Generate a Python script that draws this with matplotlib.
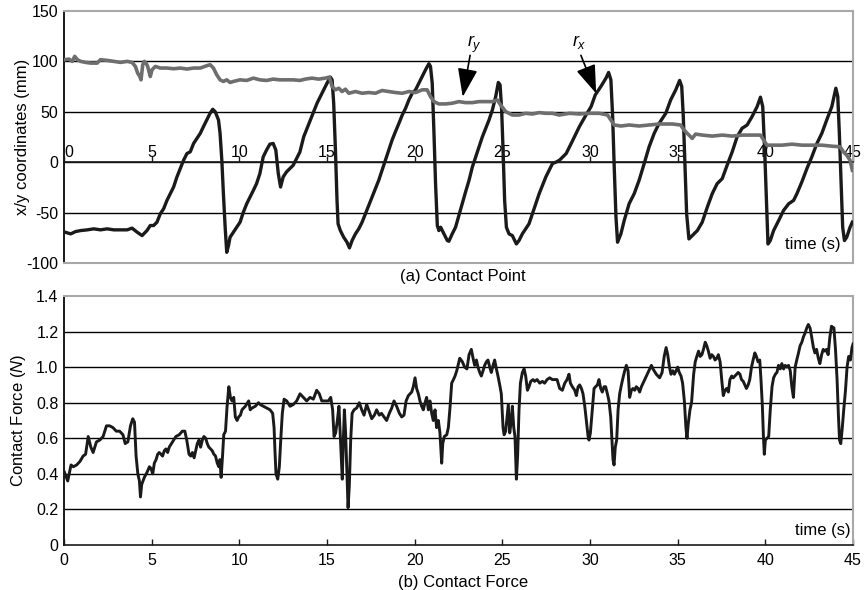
"""Contact point (x/y) and contact force traces over time, two stacked panels."""

import matplotlib

matplotlib.use("Agg")

import matplotlib.pyplot as plt

# ---- data ---------------------------------------------------------------
X_TICKS = [0, 5, 10, 15, 20, 25, 30, 35, 40, 45]
POS_TICKS = [-100, -50, 0, 50, 100, 150]
FORCE_TICKS = [0, 0.2, 0.4, 0.6, 0.8, 1.0, 1.2, 1.4]
FORCE_TICK_LABELS = ["0", "0.2", "0.4", "0.6", "0.8", "1.0", "1.2", "1.4"]

# r_x contact coordinate (black trace), time in s, value in mm
RX_T = [
    0.06, 0.38, 0.66, 0.95, 1.33, 1.70, 2.08, 2.46, 2.84, 3.22,
    3.60, 3.88, 4.17, 4.45, 4.73, 4.92, 5.11, 5.30, 5.49, 5.68,
    5.87, 6.06, 6.25, 6.44, 6.63, 6.82, 7.01, 7.20, 7.39, 7.58,
    7.77, 7.95, 8.14, 8.33, 8.48, 8.62, 8.81, 8.90, 9.00, 9.09,
    9.19, 9.28, 9.38, 9.47, 9.66, 9.85, 10.04, 10.23, 10.42, 10.61,
    10.80, 10.98, 11.17, 11.36, 11.55, 11.74, 11.93, 12.08, 12.22, 12.35,
    12.50, 12.69, 12.88, 13.07, 13.45, 13.67, 13.86, 14.05, 14.24, 14.43,
    14.62, 14.81, 15.00, 15.19, 15.29, 15.38, 15.48, 15.57, 15.63, 15.76,
    15.95, 16.14, 16.28, 16.43, 16.62, 16.81, 17.00, 17.19, 17.38, 17.57,
    17.76, 17.95, 18.14, 18.33, 18.52, 18.71, 18.90, 19.10, 19.29, 19.48,
    19.67, 19.86, 20.05, 20.24, 20.43, 20.62, 20.81, 20.90, 21.00, 21.10,
    21.19, 21.29, 21.38, 21.48, 21.67, 21.86, 21.95, 22.14, 22.33, 22.52,
    22.71, 22.90, 23.10, 23.29, 23.48, 23.67, 23.86, 24.05, 24.24, 24.43,
    24.62, 24.77, 24.87, 24.96, 25.04, 25.13, 25.23, 25.38, 25.57, 25.80,
    25.95, 26.14, 26.33, 26.52, 26.71, 26.90, 27.10, 27.29, 27.48, 27.67,
    27.86, 28.05, 28.26, 28.64, 29.02, 29.39, 29.77, 30.06, 30.30, 30.62,
    30.91, 31.06, 31.19, 31.29, 31.38, 31.48, 31.57, 31.76, 31.95, 32.23,
    32.52, 32.80, 33.09, 33.37, 33.66, 33.94, 34.32, 34.60, 34.89, 35.11,
    35.23, 35.32, 35.42, 35.51, 35.64, 35.83, 36.12, 36.40, 36.69, 36.97,
    37.25, 37.54, 37.82, 38.11, 38.39, 38.67, 38.96, 39.24, 39.53, 39.72,
    39.85, 39.96, 40.06, 40.15, 40.28, 40.47, 40.76, 41.04, 41.33, 41.61,
    41.80, 42.08, 42.37, 42.65, 42.94, 43.22, 43.50, 43.79, 44.02, 44.13,
    44.22, 44.32, 44.41, 44.51, 44.64, 44.83, 44.96,
]
RX_MM = [
    -69.4, -71.1, -68.8, -67.8, -67.1, -66.1, -67.1, -66.1, -67.1, -67.1,
    -67.1, -65.4, -69.4, -72.8, -67.8, -62.8, -62.8, -59.5, -51.2, -46.2,
    -37.9, -31.2, -24.6, -14.6, -6.3, 2.0, 8.6, 10.3, 18.6, 23.6,
    28.6, 35.2, 41.9, 48.5, 52.5, 50.2, 41.9, 28.6, 2.0, -31.2,
    -64.5, -89.4, -82.7, -74.4, -69.4, -64.5, -59.5, -49.5, -41.2, -34.6,
    -27.9, -21.3, -11.3, 5.3, 12.0, 17.9, 18.6, 12.0, -11.3, -24.6,
    -14.6, -9.6, -6.3, -3.0, 10.0, 25.2, 33.6, 41.9, 50.2, 58.5,
    65.1, 71.8, 78.4, 84.4, 81.7, 58.5, 12.0, -37.9, -61.1, -67.8,
    -74.4, -79.4, -85.0, -77.7, -71.1, -66.1, -59.5, -51.2, -42.9, -34.6,
    -26.2, -17.9, -8.0, 2.0, 12.0, 21.9, 30.2, 38.5, 46.8, 53.5,
    61.8, 68.4, 71.8, 78.4, 85.0, 91.7, 97.7, 95.0, 78.4, 28.6,
    -21.3, -62.8, -67.8, -64.5, -71.1, -77.7, -78.4, -71.1, -64.5, -52.8,
    -41.2, -29.6, -17.9, -4.7, 5.3, 15.3, 25.2, 33.6, 41.9, 51.8,
    65.1, 79.1, 76.7, 51.8, 12.0, -37.9, -64.5, -71.1, -72.8, -81.1,
    -77.7, -71.1, -66.1, -61.1, -51.2, -41.2, -31.2, -22.9, -14.6, -8.0,
    -1.3, 0.0, 2.0, 8.6, 21.9, 35.2, 46.8, 55.1, 66.8, 75.1,
    83.4, 89.0, 81.7, 45.2, -4.7, -54.5, -79.4, -71.1, -57.8, -41.2,
    -31.2, -17.9, -1.3, 15.3, 28.6, 38.5, 48.5, 61.8, 71.8, 81.1,
    75.1, 45.2, -4.7, -51.2, -76.1, -72.8, -67.8, -59.5, -44.5, -31.2,
    -21.3, -16.3, -3.0, 10.3, 25.2, 33.6, 36.9, 45.2, 55.1, 64.5,
    55.1, 12.0, -37.9, -81.1, -77.7, -67.8, -57.8, -47.8, -41.2, -37.9,
    -31.2, -19.6, -6.3, 5.3, 18.6, 28.6, 41.9, 55.1, 73.4, 65.1,
    28.6, -21.3, -64.5, -77.7, -74.4, -64.5, -59.5,
]

# r_y contact coordinate (grey trace)
RY_T = [
    0.06, 0.28, 0.47, 0.61, 0.76, 0.95, 1.23, 1.52, 1.89, 2.08,
    2.46, 2.84, 3.22, 3.60, 3.88, 4.07, 4.20, 4.32, 4.39, 4.49,
    4.58, 4.68, 4.77, 4.92, 5.02, 5.21, 5.49, 5.87, 6.25, 6.63,
    7.01, 7.39, 7.77, 8.14, 8.33, 8.52, 8.71, 8.90, 9.09, 9.28,
    9.47, 9.66, 10.04, 10.42, 10.80, 11.17, 11.55, 11.93, 12.31, 12.69,
    13.07, 13.45, 13.76, 14.14, 14.52, 14.90, 15.13, 15.29, 15.48, 15.67,
    15.86, 16.05, 16.24, 16.62, 17.00, 17.38, 17.76, 18.14, 18.52, 18.90,
    19.29, 19.67, 20.05, 20.43, 20.71, 20.90, 21.10, 21.38, 21.76, 22.14,
    22.52, 22.90, 23.29, 23.67, 24.05, 24.43, 24.71, 24.90, 25.19, 25.57,
    25.95, 26.33, 26.71, 27.10, 27.48, 27.86, 28.24, 28.83, 29.39, 29.96,
    30.53, 31.00, 31.19, 31.38, 31.76, 32.23, 32.80, 33.37, 33.94, 34.70,
    35.17, 35.36, 35.64, 35.83, 36.02, 36.40, 36.97, 37.54, 38.11, 38.67,
    39.24, 39.72, 39.91, 40.09, 40.38, 40.95, 41.52, 42.08, 42.65, 43.22,
    43.79, 44.26, 44.45, 44.64, 44.83, 44.96,
]
RY_MM = [
    101.7, 102.3, 100.0, 105.0, 101.7, 100.0, 99.0, 98.3, 98.3, 101.7,
    101.0, 100.0, 99.0, 100.0, 99.0, 95.0, 88.4, 85.0, 81.7, 96.7,
    100.0, 98.3, 95.0, 85.0, 91.7, 95.0, 93.4, 93.4, 92.7, 93.4,
    92.4, 93.4, 93.4, 95.7, 96.7, 93.4, 86.7, 81.7, 80.1, 81.7,
    79.1, 80.1, 81.7, 81.1, 83.4, 81.7, 81.1, 82.4, 81.7, 81.7,
    81.7, 81.1, 82.4, 83.4, 82.4, 83.4, 84.4, 75.1, 71.8, 73.4,
    70.1, 72.4, 68.4, 70.1, 68.4, 69.1, 68.4, 71.1, 70.1, 69.1,
    68.4, 70.1, 69.1, 71.8, 71.8, 65.1, 60.1, 57.8, 57.8, 58.5,
    60.1, 59.1, 59.1, 60.1, 60.1, 60.1, 61.8, 56.8, 50.2, 46.8,
    46.8, 48.5, 47.8, 49.2, 48.5, 48.5, 46.8, 48.5, 47.8, 48.5,
    48.5, 46.8, 41.9, 36.9, 35.9, 36.9, 35.9, 36.9, 37.9, 37.9,
    36.9, 31.9, 26.9, 23.6, 27.9, 26.9, 25.9, 26.9, 25.9, 26.9,
    26.9, 26.9, 21.9, 16.9, 16.9, 16.9, 17.9, 16.9, 16.9, 16.9,
    15.9, 15.3, 10.3, 7.0, 2.0, -8.0,
]

# contact force, time in s, force in N
FORCE_T = [
    0.02, 0.21, 0.40, 0.53, 0.72, 0.91, 1.09, 1.23, 1.38, 1.53,
    1.66, 1.85, 2.04, 2.23, 2.42, 2.60, 2.79, 2.98, 3.17, 3.36,
    3.49, 3.64, 3.79, 3.92, 4.02, 4.11, 4.21, 4.30, 4.36, 4.43,
    4.58, 4.74, 4.87, 4.96, 5.06, 5.15, 5.25, 5.34, 5.43, 5.53,
    5.62, 5.72, 5.81, 5.91, 6.00, 6.19, 6.38, 6.57, 6.75, 6.89,
    7.00, 7.13, 7.23, 7.32, 7.42, 7.51, 7.60, 7.70, 7.79, 7.89,
    7.98, 8.08, 8.17, 8.26, 8.36, 8.45, 8.55, 8.64, 8.74, 8.83,
    8.89, 8.96, 9.04, 9.11, 9.21, 9.30, 9.40, 9.49, 9.58, 9.68,
    9.77, 9.87, 9.96, 10.06, 10.15, 10.34, 10.53, 10.62, 10.72, 10.91,
    11.09,
    11.18, 11.37, 11.56, 11.75, 11.90, 11.98, 12.03, 12.09, 12.19, 12.28,
    12.36, 12.45, 12.55, 12.70, 12.89, 13.08, 13.27, 13.46, 13.65, 13.84,
    14.03, 14.22, 14.41, 14.56, 14.70, 14.89, 15.08, 15.21, 15.32, 15.40,
    15.49, 15.59, 15.68, 15.74, 15.82, 15.87, 15.93, 15.99, 16.06, 16.14,
    16.20, 16.27, 16.35, 16.43, 16.54, 16.69, 16.84, 16.98, 17.11, 17.26,
    17.41, 17.55, 17.70, 17.83, 17.98, 18.11, 18.25, 18.40, 18.55, 18.69,
    18.82, 18.97, 19.13, 19.26, 19.39, 19.51, 19.64, 19.83, 19.92, 20.02,
    20.11, 20.21, 20.30, 20.40, 20.49, 20.59, 20.68, 20.78, 20.87, 20.97,
    21.06, 21.16, 21.25, 21.35, 21.44, 21.54, 21.60, 21.69, 21.83, 21.92,
    22.02, 22.11, 22.21, 22.30, 22.40,
    22.57, 22.72, 22.85, 22.98, 23.10, 23.23, 23.33, 23.42, 23.52, 23.61,
    23.71, 23.80, 23.90, 23.99, 24.09, 24.18, 24.28, 24.37, 24.47, 24.56,
    24.66, 24.75, 24.85, 24.94, 25.04, 25.10, 25.19, 25.27, 25.34, 25.42,
    25.51, 25.57, 25.65, 25.72, 25.80, 25.87, 25.95, 26.03, 26.14, 26.24,
    26.33, 26.43, 26.52, 26.62, 26.75, 26.84, 26.98, 27.13, 27.28, 27.41,
    27.55, 27.70, 27.85, 27.98, 28.12, 28.27, 28.42, 28.56, 28.69, 28.80,
    28.88, 28.99, 29.13, 29.22, 29.32, 29.41, 29.51, 29.60, 29.70, 29.79,
    29.89, 29.94, 30.02, 30.11, 30.23, 30.32, 30.42, 30.51, 30.61, 30.70,
    30.80, 30.89, 30.99, 31.08, 31.18, 31.25, 31.31, 31.37, 31.44, 31.52,
    31.60, 31.69, 31.79, 31.88, 31.98, 32.07, 32.17, 32.26, 32.36, 32.45,
    32.55, 32.64, 32.74, 32.83, 32.93, 33.12, 33.31, 33.50, 33.59, 33.78,
    33.97,
    34.11, 34.23, 34.34, 34.43, 34.53, 34.62, 34.72, 34.81, 34.91, 35.00,
    35.09, 35.19, 35.28, 35.38, 35.47, 35.53, 35.60, 35.70, 35.79, 35.91,
    36.00, 36.09, 36.19, 36.28, 36.38, 36.47, 36.57, 36.66, 36.75, 36.85,
    36.94, 37.04, 37.13, 37.23, 37.32, 37.42, 37.51, 37.60, 37.70, 37.79,
    37.89, 37.98, 38.08, 38.17, 38.26, 38.36, 38.45, 38.55, 38.64, 38.74,
    38.83, 38.92, 39.02, 39.11, 39.21, 39.30, 39.40, 39.49, 39.58, 39.68,
    39.75, 39.83, 39.89, 39.94, 40.00, 40.09, 40.19, 40.28, 40.38, 40.47,
    40.57, 40.66, 40.75, 40.85, 40.94, 41.04, 41.13, 41.23, 41.32, 41.42,
    41.51, 41.60, 41.70, 41.79, 41.89, 41.98, 42.08, 42.17, 42.26, 42.36,
    42.45, 42.55, 42.64, 42.74, 42.83, 42.92, 43.02, 43.11, 43.21, 43.30,
    43.40, 43.49, 43.58, 43.68, 43.77, 43.91, 44.00, 44.09, 44.17, 44.23,
    44.30, 44.38, 44.47, 44.57, 44.66, 44.75, 44.85, 44.94, 45.00,
]
FORCE_N = [
    0.41, 0.36, 0.45, 0.44, 0.45, 0.47, 0.50, 0.51, 0.61, 0.55,
    0.52, 0.58, 0.59, 0.61, 0.67, 0.67, 0.66, 0.64, 0.64, 0.62,
    0.57, 0.58, 0.67, 0.71, 0.69, 0.50, 0.40, 0.36, 0.27, 0.34,
    0.38, 0.41, 0.44, 0.43, 0.40, 0.46, 0.48, 0.51, 0.52, 0.51,
    0.50, 0.53, 0.54, 0.52, 0.55, 0.58, 0.61, 0.62, 0.64, 0.64,
    0.59, 0.51, 0.50, 0.52, 0.49, 0.53, 0.57, 0.59, 0.55, 0.59,
    0.61, 0.60, 0.57, 0.55, 0.54, 0.53, 0.51, 0.50, 0.46, 0.44,
    0.48, 0.38, 0.50, 0.62, 0.64, 0.78, 0.89, 0.83, 0.81, 0.83,
    0.72, 0.70, 0.72, 0.73, 0.76, 0.78, 0.81, 0.76, 0.77, 0.78,
    0.80,
    0.79, 0.78, 0.77, 0.76, 0.74, 0.66, 0.53, 0.40, 0.37, 0.44,
    0.59, 0.74, 0.82, 0.81, 0.78, 0.79, 0.81, 0.85, 0.83, 0.81,
    0.83, 0.82, 0.87, 0.85, 0.81, 0.81, 0.81, 0.83, 0.76, 0.61,
    0.63, 0.70, 0.78, 0.65, 0.48, 0.37, 0.59, 0.76, 0.63, 0.38,
    0.21, 0.33, 0.59, 0.74, 0.76, 0.77, 0.80, 0.76, 0.73, 0.79,
    0.75, 0.71, 0.73, 0.76, 0.73, 0.74, 0.72, 0.70, 0.74, 0.77,
    0.81, 0.78, 0.74, 0.72, 0.73, 0.81, 0.84, 0.86, 0.89, 0.94,
    0.88, 0.85, 0.81, 0.78, 0.76, 0.80, 0.83, 0.76, 0.81, 0.74,
    0.70, 0.76, 0.66, 0.70, 0.63, 0.46, 0.57, 0.61, 0.62, 0.66,
    0.78, 0.91, 0.93, 0.95, 0.98,
    1.05, 1.03, 1.00, 0.99, 1.07, 1.10, 1.05, 1.01, 1.04, 1.00,
    0.97, 0.95, 0.98, 1.01, 1.03, 1.04, 1.00, 0.97, 1.01, 1.04,
    0.99, 0.95, 0.90, 0.85, 0.66, 0.62, 0.64, 0.72, 0.79, 0.63,
    0.70, 0.78, 0.66, 0.61, 0.37, 0.50, 0.76, 0.91, 0.97, 0.99,
    0.95, 0.87, 0.89, 0.92, 0.93, 0.92, 0.93, 0.91, 0.92, 0.91,
    0.93, 0.94, 0.93, 0.93, 0.93, 0.88, 0.87, 0.91, 0.93, 0.96,
    0.91, 0.89, 0.87, 0.84, 0.89, 0.90, 0.88, 0.85, 0.78, 0.70,
    0.61, 0.59, 0.63, 0.74, 0.88, 0.89, 0.90, 0.93, 0.88, 0.86,
    0.89, 0.89, 0.85, 0.81, 0.72, 0.59, 0.48, 0.45, 0.55, 0.59,
    0.76, 0.85, 0.90, 0.94, 0.98, 1.01, 0.98, 0.83, 0.87, 0.88,
    0.87, 0.89, 0.88, 0.86, 0.89, 0.93, 0.97, 1.01, 0.99, 0.96,
    0.94,
    0.97, 1.06, 1.11, 1.07, 1.00, 0.96, 0.98, 0.96, 0.98, 1.00,
    0.97, 0.95, 0.91, 0.81, 0.66, 0.60, 0.68, 0.76, 0.80, 0.96,
    1.03, 1.06, 1.09, 1.06, 1.07, 1.10, 1.14, 1.12, 1.09, 1.05,
    1.07, 1.06, 1.04, 1.05, 1.07, 1.03, 0.93, 0.84, 0.87, 0.88,
    0.86, 0.93, 0.95, 0.94, 0.95, 0.96, 0.97, 0.96, 0.93, 0.92,
    0.90, 0.88, 0.90, 0.93, 1.00, 1.04, 1.08, 1.06, 1.03, 1.04,
    0.93, 0.78, 0.61, 0.51, 0.59, 0.60, 0.61, 0.76, 0.89, 0.94,
    0.96, 0.97, 1.01, 0.99, 1.02, 0.99, 1.01, 1.00, 1.01, 0.98,
    0.89, 0.83, 1.00, 1.04, 1.08, 1.12, 1.14, 1.17, 1.19, 1.22,
    1.24, 1.22, 1.17, 1.11, 1.08, 1.10, 1.05, 1.02, 1.07, 1.10,
    1.09, 1.10, 1.07, 1.17, 1.23, 1.22, 1.10, 0.93, 0.72, 0.59,
    0.57, 0.65, 0.76, 0.87, 1.00, 1.06, 1.04, 1.11, 1.13,
]

# ---- styling --------------------------------------------------------------
INK = "#1a1a1a"
GREY_TRACE = "#6e6e6e"
FRAME = "#a8a8a8"
FS = 11.5

plt.rcParams.update(
    {
        "font.family": "Liberation Sans",
        "axes.unicode_minus": False,
        "mathtext.fontset": "custom",
        "mathtext.rm": "Liberation Sans",
        "mathtext.it": "Liberation Sans:italic",
        "xtick.labelsize": FS,
        "ytick.labelsize": FS,
    }
)


def frame_axis(axis):
    axis.spines["left"].set_color(INK)
    axis.spines["left"].set_linewidth(1.4)
    axis.spines["bottom"].set_color(INK)
    axis.spines["bottom"].set_linewidth(1.2)
    for side in ("top", "right"):
        axis.spines[side].set_color(FRAME)
        axis.spines[side].set_linewidth(1.5)
    axis.tick_params(axis="y", length=0, pad=4)
    axis.yaxis.grid(True, color="black", linewidth=1.0)
    axis.set_axisbelow(True)
    gridlines = axis.get_ygridlines()
    gridlines[0].set_visible(False)
    gridlines[-1].set_visible(False)


figure = plt.figure(figsize=(8.64, 5.9), dpi=100)
figure.patch.set_facecolor("white")

# ---- (a) contact point ----------------------------------------------------
top = figure.add_axes([0.0741, 0.5542, 0.9132, 0.4272])
top.plot(RX_T, RX_MM, color=INK, linewidth=2.4, solid_joinstyle="round", zorder=3)
top.plot(RY_T, RY_MM, color=GREY_TRACE, linewidth=2.6, solid_joinstyle="round", zorder=4)
top.set_xlim(0, 45)
top.set_ylim(-100, 150)
top.set_yticks(POS_TICKS)
top.set_xticks(X_TICKS)
frame_axis(top)
top.spines["bottom"].set_position(("data", 0))
top.axhline(-100, color=FRAME, linewidth=1.5, clip_on=False, zorder=5)
top.tick_params(axis="x", direction="in", length=4, width=1, pad=-12.5, color=INK)
top.get_xticklabels()[0].set_ha("left")
top.set_ylabel("x/y coordinates (mm)", fontsize=12)
top.yaxis.set_label_coords(-0.043, 0.5)
top.text(44.27, -82, "time (s)", ha="right", va="center", fontsize=12)

arrow_style = dict(arrowstyle="-|>,head_length=0.8,head_width=0.28", mutation_scale=22,
                   color="black", linewidth=1.2, shrinkA=0, shrinkB=0)
top.annotate("", xy=(22.74, 64.8), xytext=(23.16, 106), arrowprops=arrow_style, zorder=6)
top.annotate("", xy=(30.35, 68.2), xytext=(29.48, 106), arrowprops=arrow_style, zorder=6)
top.text(23.39, 117, "$r_y$", ha="center", va="center", fontsize=13)
top.text(29.38, 119, "$r_x$", ha="center", va="center", fontsize=13)

# ---- (b) contact force ----------------------------------------------------
bottom = figure.add_axes([0.0741, 0.0763, 0.9132, 0.4220])
bottom.plot(FORCE_T, FORCE_N, color=INK, linewidth=2.1, solid_joinstyle="round", zorder=3)
bottom.set_xlim(0, 45)
bottom.set_ylim(0, 1.4)
bottom.set_yticks(FORCE_TICKS)
bottom.set_yticklabels(FORCE_TICK_LABELS)
bottom.set_xticks(X_TICKS)
frame_axis(bottom)
bottom.tick_params(axis="x", direction="in", length=4, width=1, pad=6, color=INK)
bottom.set_ylabel("Contact Force ($\\it{N}$)", fontsize=12)
bottom.yaxis.set_label_coords(-0.046, 0.5)
bottom.text(44.84, 0.079, "time (s)", ha="right", va="center", fontsize=12)

figure.text(463 / 864, 1 - 277 / 590, "(a) Contact Point", ha="center", va="center", fontsize=12)
figure.text(463 / 864, 1 - 583 / 590, "(b) Contact Force", ha="center", va="center", fontsize=12)

figure.savefig("out.png", dpi=100, facecolor="white")
plt.close(figure)
